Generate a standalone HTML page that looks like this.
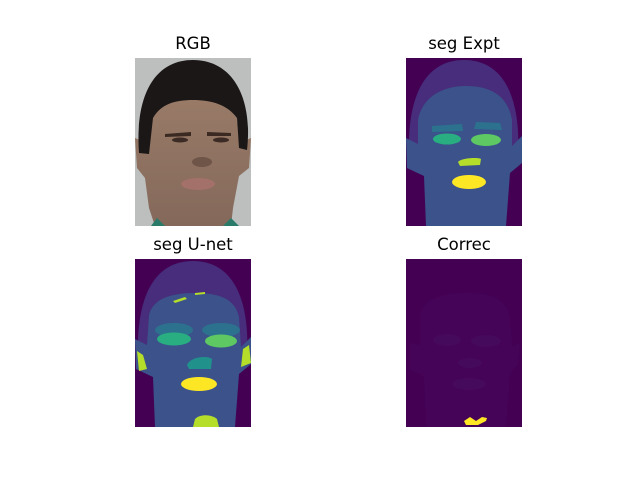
<!DOCTYPE html>
<html><head><meta charset="utf-8"><style>
body{margin:0;background:#fff;}
svg{display:block;}
text{font-family:"DejaVu Sans","Liberation Sans",sans-serif;font-size:16.5px;fill:#000;}
</style></head><body>
<svg width="640" height="480" viewBox="0 0 640 480">
<defs>
<clipPath id="clip"><rect x="0" y="0" width="116" height="168"/></clipPath>
<linearGradient id="skin" x1="0" y1="0" x2="0" y2="1"><stop offset="0" stop-color="#9a7c68"/><stop offset="1" stop-color="#84685a"/></linearGradient>
</defs>
<text x="193" y="49" text-anchor="middle">RGB</text>
<text x="464" y="49" text-anchor="middle">seg Expt</text>
<text x="193" y="250" text-anchor="middle">seg U-net</text>
<text x="464" y="250" text-anchor="middle">Correc</text>

<!-- RGB -->
<g transform="translate(135,58)" clip-path="url(#clip)">
<rect width="116" height="168" fill="#bcbfbe"/>
<path d="M20,168 L14,150 L10,120 L2,110 L0,80 L12,85 L16,60 C20,35 35,30 58,30 C82,30 98,35 102,60 L104,85 L116,80 L114,110 L104,118 L98,150 L96,168 Z" fill="url(#skin)"/>
<path d="M4,95 C0,40 18,2 58,2 C98,2 118,40 112,92 L104,90 L102,60 C92,46 75,42 58,42 C40,42 26,46 18,60 L14,96 Z" fill="#1b1716"/>
<path d="M30,76 L56,74 L56,78 L30,79 Z M72,74 L96,75 L96,78 L72,78 Z" fill="#3a2a22"/>
<ellipse cx="45" cy="82" rx="8" ry="2.5" fill="#3b2b24"/>
<ellipse cx="86" cy="82" rx="8" ry="2.5" fill="#3b2b24"/>
<ellipse cx="67" cy="104" rx="10" ry="5" fill="#6e5547"/>
<ellipse cx="63" cy="126" rx="17" ry="6" fill="#a4706a"/>
<path d="M16,168 L22,160 L30,168 Z M88,168 L96,160 L104,168 Z" fill="#2a7a6a"/>
</g>

<!-- seg Expt -->
<g transform="translate(406,58)" clip-path="url(#clip)">
<rect width="116" height="168" fill="#440154"/>
<path d="M3,98 C1,40 18,2 58,2 C98,2 115,40 112,98 Z" fill="#472d7b"/>
<path d="M20,168 L18,118 L1,110 L0,80 L12,86 L12,62 C16,40 35,28 60,28 C85,28 102,38 106,62 L106,88 L116,78 L116,105 L104,115 L100,168 Z" fill="#3b528b"/>
<path d="M26,68 L56,66 L57,73 L26,74 Z" fill="#2c728e"/>
<path d="M70,64 L94,65 L96,72 L68,71 Z" fill="#2c728e"/>
<ellipse cx="41" cy="81" rx="14" ry="5.5" fill="#28ae80"/>
<ellipse cx="80" cy="82" rx="15" ry="6" fill="#5ec962"/>
<path d="M52,104 C55,100 72,99 75,101 L74,107 L54,108 Z" fill="#b5de2b"/>
<ellipse cx="63" cy="124" rx="17" ry="7" fill="#fde725"/>
</g>

<!-- seg U-net -->
<g transform="translate(135,259)" clip-path="url(#clip)">
<rect width="116" height="168" fill="#440154"/>
<path d="M3,98 C1,40 18,2 58,2 C98,2 115,40 112,98 Z" fill="#472d7b"/>
<path d="M20,168 L18,118 L1,110 L0,80 L12,86 L14,56 C18,40 35,34 60,34 C85,34 100,40 104,58 L106,88 L116,78 L116,105 L104,115 L100,168 Z" fill="#3b528b"/>
<ellipse cx="39" cy="71" rx="19" ry="7" fill="#2c728e"/>
<ellipse cx="86" cy="71" rx="19" ry="7" fill="#2c728e"/>
<ellipse cx="39" cy="80" rx="17" ry="6.5" fill="#28ae80"/>
<ellipse cx="86" cy="82" rx="16" ry="6.5" fill="#5ec962"/>
<path d="M52,106 C55,98 72,96 77,100 L76,110 L54,110 Z" fill="#21918c"/>
<ellipse cx="64" cy="125" rx="18" ry="7" fill="#fde725"/>
<path d="M2,92 L8,96 L12,110 L4,112 Z M108,90 L114,86 L116,104 L106,108 Z" fill="#b5de2b"/>
<path d="M60,160 C66,154 78,156 82,160 L84,168 L58,168 Z" fill="#b5de2b"/>
<path d="M38,42 L50,38 L52,40 L40,44 Z M60,34 L70,33 L70,35 L60,36 Z" fill="#b5de2b"/>
</g>

<!-- Correc -->
<g transform="translate(406,259)" clip-path="url(#clip)">
<rect width="116" height="168" fill="#440154"/>
<path d="M20,168 L18,118 L4,110 L4,84 L14,86 L14,56 C18,40 35,34 60,34 C85,34 100,40 104,58 L106,88 L114,84 L112,105 L104,115 L100,168 Z" fill="#450458"/>
<ellipse cx="41" cy="81" rx="14" ry="6" fill="#460a5d"/>
<ellipse cx="80" cy="82" rx="15" ry="6" fill="#460a5d"/>
<ellipse cx="64" cy="104" rx="12" ry="5" fill="#460a5d"/>
<ellipse cx="63" cy="125" rx="17" ry="6" fill="#460a5d"/>
<path d="M58,162 L64,158 L70,162 L76,158 L81,159 L80,162 L72,166 L60,166 Z" fill="#fde725"/>
</g>
</svg>
</body></html>
